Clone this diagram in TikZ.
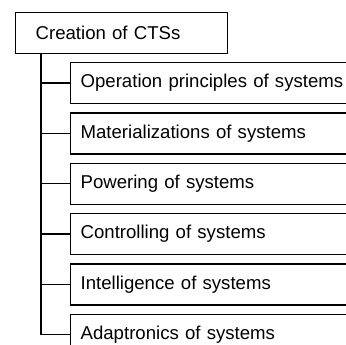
\documentclass[tikz,border=0pt]{standalone}
\usepackage{fontspec}
\setmainfont{Liberation Sans}
\usetikzlibrary{positioning}
\tikzset{
  treebox/.style={
    draw=black, line width=1.3pt, rectangle, anchor=north west,
    minimum height=41pt, align=left, inner ysep=0pt,
    font=\fontsize{18.6}{21}\selectfont
  },
  rootbox/.style={treebox, inner xsep=20pt, text width=172pt},
  leafbox/.style={treebox, inner xsep=10pt, text width=280pt},
  link/.style={draw=black, line width=1.3pt}
}

\begin{document}
\begin{tikzpicture}[x=1pt, y=-1pt, node distance=8pt]
  \clip (0,0) rectangle (346,345);
  \node[rootbox] (cts) at (15,12) {Creation of CTSs};
  \node[leafbox] (op) at (70,62) {Operation principles of systems};
  \node[leafbox, below=of op.south west, anchor=north west] (mat) {Materializations of systems};
  \node[leafbox, below=of mat.south west, anchor=north west] (pow) {Powering of systems};
  \node[leafbox, below=of pow.south west, anchor=north west] (ctl) {Controlling of systems};
  \node[leafbox, below=of ctl.south west, anchor=north west] (intel) {Intelligence of systems};
  \node[leafbox, below=of intel.south west, anchor=north west] (adapt) {Adaptronics of systems};
  % trunk and branches
  \foreach \c in {op,mat,pow,ctl,intel,adapt}
    \draw[link] ([xshift=26pt]cts.south west) |- (\c.west);
\end{tikzpicture}
\end{document}
